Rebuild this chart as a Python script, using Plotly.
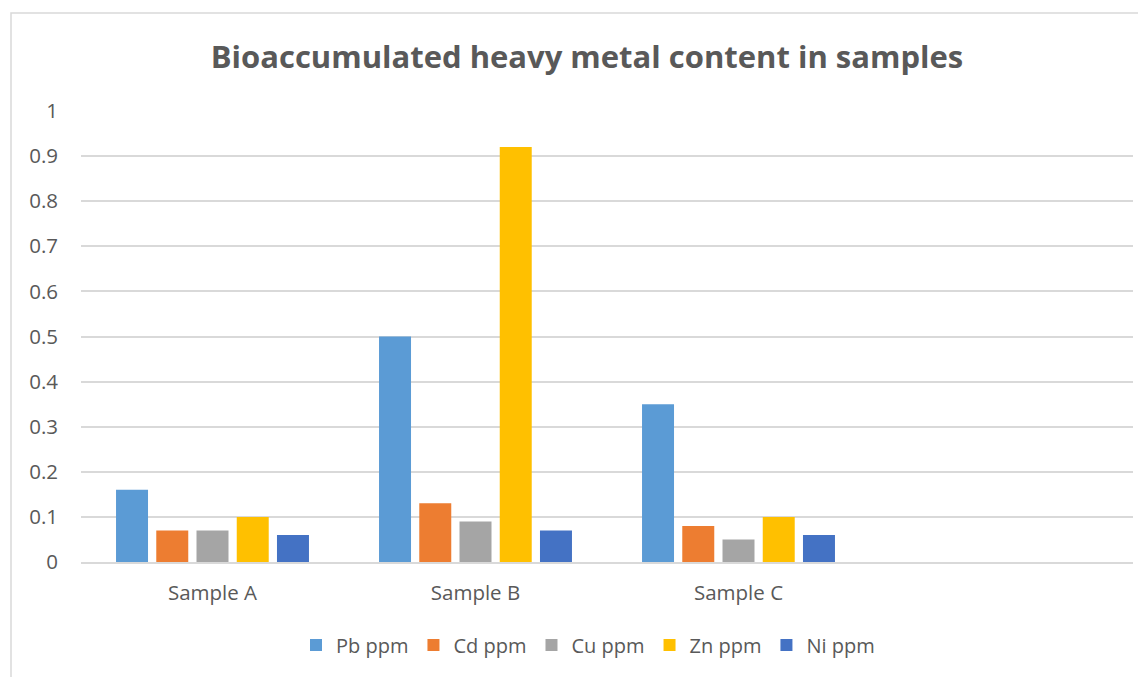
import plotly.graph_objects as go

categories = ["Sample A", "Sample B", "Sample C", " "]
series_names = ["Pb ppm", "Cd ppm", "Cu ppm", "Zn ppm", "Ni ppm"]
pb = [0.16, 0.50, 0.35, None]
cd = [0.07, 0.13, 0.08, None]
cu = [0.07, 0.09, 0.05, None]
zn = [0.10, 0.92, 0.10, None]
ni = [0.06, 0.07, 0.06, None]
colors = ["#5B9BD5", "#ED7D31", "#A5A5A5", "#FFC000", "#4472C4"]
y_ticks = [0, 0.1, 0.2, 0.3, 0.4, 0.5, 0.6, 0.7, 0.8, 0.9, 1]
y_tick_labels = ["0", "0.1", "0.2", "0.3", "0.4", "0.5", "0.6", "0.7", "0.8", "0.9", "1"]

FONT = "Open Sans"
TXT = "#595959"
W, H = 1138, 669          # page body has an 8px margin
L, T, PW, PH = 73, 103, 1052, 451

fig = go.Figure()
for name, vals, col in zip(series_names, [pb, cd, cu, zn, ni], colors):
    fig.add_trace(go.Bar(x=categories, y=vals, name=name,
                         marker=dict(color=col, line=dict(width=0))))

fig.update_layout(
    width=W, height=H,
    margin=dict(l=L, r=W - L - PW, t=T, b=H - T - PH),
    paper_bgcolor="white", plot_bgcolor="white",
    barmode="group", bargap=0.235, bargroupgap=0.205,
    font=dict(family=FONT, color=TXT, size=20),
    title=dict(text="<b>Bioaccumulated heavy metal content in samples</b>",
               x=579 / W, xref="container", xanchor="center",
               y=1 - 49 / H, yref="container", yanchor="middle",
               font=dict(family=FONT, size=31, color=TXT)),
    xaxis=dict(type="category", range=[-0.5, 3.5], showgrid=False,
               showline=True, linecolor="#D9D9D9", linewidth=1.5,
               ticks="", tickfont=dict(size=20.5, color=TXT), ticklabelstandoff=12),
    yaxis=dict(range=[0, 1], tickvals=y_ticks, ticktext=y_tick_labels,
               showgrid=True, gridcolor="#D9D9D9", gridwidth=1.5,
               zeroline=False, showline=False, ticks="",
               tickfont=dict(size=20.5, color=TXT), ticklabelstandoff=22),
    legend=dict(orientation="h", x=(580 - L) / PW, xanchor="center",
                y=-(637 - (T + PH)) / PH, yanchor="middle",
                font=dict(size=20, color=TXT), itemwidth=30,
                traceorder="normal"),
    shapes=[dict(type="rect", xref="paper", yref="paper",
                 x0=(3 - L) / PW, x1=1.2, y0=-0.5, y1=1 + (T - 5) / PH,
                 line=dict(color="#D9D9D9", width=1.5), fillcolor="rgba(0,0,0,0)",
                 layer="below")],
)

fig.write_html("out.html")
